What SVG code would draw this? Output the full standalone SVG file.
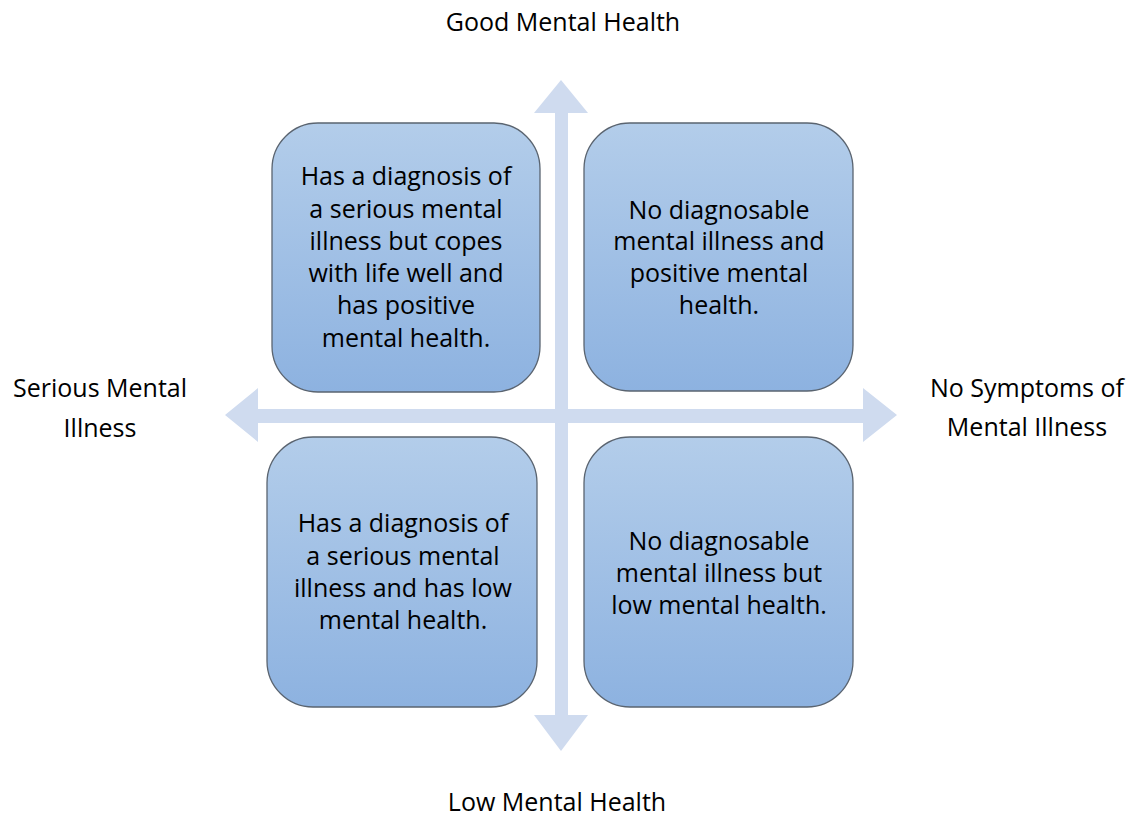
<svg xmlns="http://www.w3.org/2000/svg" width="1133" height="818" viewBox="0 0 1133 818">
<defs>
<linearGradient id="g" x1="0" y1="0" x2="0" y2="1">
<stop offset="0" stop-color="#b3cdea"/>
<stop offset="1" stop-color="#8db2e0"/>
</linearGradient>
<style>
.box{fill:url(#g);stroke:#5a6470;stroke-width:1.3}
.t{font-family:"Open Sans","Liberation Sans",sans-serif;font-size:25px;fill:#000;text-anchor:middle}
.arr{fill:#cfdbef}
</style>
</defs>
<rect width="1133" height="818" fill="#fff"/>
<g id="connectors">
<polygon class="arr" points="561,80 588,113 568,113 568,715 588,715 561,751 534,715 555,715 555,113 534,113"/>
<polygon class="arr" points="225,415 258,388 258,409 863,409 863,388 897,415 863,442 863,423 258,423 258,442"/>
</g>
<g id="node-tl">
<rect class="box" x="272" y="123" width="268" height="269" rx="46"/>
<text class="t"><tspan x="406" y="185">Has a diagnosis of</tspan><tspan x="406" y="218">a serious mental</tspan><tspan x="406" y="250">illness but copes</tspan><tspan x="406" y="282">with life well and</tspan><tspan x="406" y="314">has positive</tspan><tspan x="406" y="347">mental health.</tspan></text>
</g>
<g id="node-tr">
<rect class="box" x="584" y="123" width="269" height="268" rx="46"/>
<text class="t"><tspan x="719" y="219">No diagnosable</tspan><tspan x="719" y="250">mental illness and</tspan><tspan x="719" y="282">positive mental</tspan><tspan x="719" y="314">health.</tspan></text>
</g>
<g id="node-bl">
<rect class="box" x="267" y="437" width="270" height="270" rx="46"/>
<text class="t"><tspan x="403" y="532">Has a diagnosis of</tspan><tspan x="403" y="565">a serious mental</tspan><tspan x="403" y="597">illness and has low</tspan><tspan x="403" y="629">mental health.</tspan></text>
</g>
<g id="node-br">
<rect class="box" x="584" y="437" width="269" height="270" rx="46"/>
<text class="t"><tspan x="719" y="550">No diagnosable</tspan><tspan x="719" y="582">mental illness but</tspan><tspan x="719" y="614">low mental health.</tspan></text>
</g>
<g id="label-top"><text class="t" x="563" y="31">Good Mental Health</text></g>
<g id="label-bottom"><text class="t" x="557" y="811">Low Mental Health</text></g>
<g id="label-left"><text class="t"><tspan x="100" y="397">Serious Mental</tspan><tspan x="100" y="437">Illness</tspan></text></g>
<g id="label-right"><text class="t"><tspan x="1027" y="397">No Symptoms of</tspan><tspan x="1027" y="436">Mental Illness</tspan></text></g>
</svg>
